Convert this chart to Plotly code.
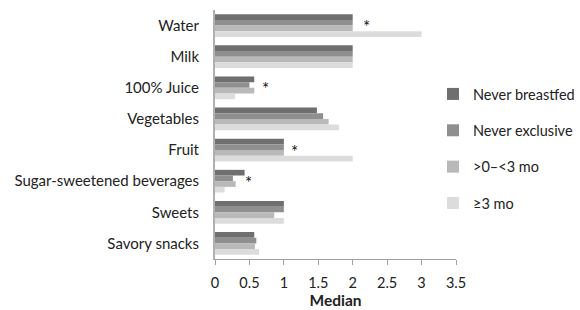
import plotly.graph_objects as go

categories = ["Water", "Milk", "100% Juice", "Vegetables", "Fruit",
              "Sugar-sweetened beverages", "Sweets", "Savory snacks"]
series_names = ["Never breastfed", "Never exclusive", ">0\u2013<3 mo", "\u22653 mo"]
never_breastfed = [2, 2, 0.57, 1.48, 1, 0.43, 1, 0.57]
never_exclusive = [2, 2, 0.50, 1.57, 1, 0.26, 1, 0.60]
lt3mo = [2, 2, 0.57, 1.65, 1, 0.30, 0.86, 0.58]
ge3mo = [3, 2, 0.29, 1.80, 2, 0.14, 1, 0.64]
series_values = [never_breastfed, never_exclusive, lt3mo, ge3mo]
colors = ["#6f6f6f", "#8f8f8f", "#b9b9b9", "#dcdcdc"]
star_categories = ["Water", "100% Juice", "Fruit", "Sugar-sweetened beverages"]
star_x = [2.2, 0.73, 1.15, 0.49]
x_ticks = [0, 0.5, 1, 1.5, 2, 2.5, 3, 3.5]

FONT = "Lato"

fig = go.Figure()
for i, (name, vals) in enumerate(zip(series_names, series_values)):
    fig.add_trace(go.Bar(
        y=categories, x=vals, name=name, orientation="h",
        marker=dict(color=colors[i], line=dict(width=0)),
        legendgroup=f"g{i}",
    ))

for c, xv in zip(star_categories, star_x):
    fig.add_annotation(x=xv, y=c, text="*", showarrow=False,
                       font=dict(family=FONT, size=17, color="#111111"),
                       yshift=-1)

fig.update_layout(
    width=580, height=310,
    margin=dict(l=215, r=124, t=10, b=51, autoexpand=False),
    paper_bgcolor="white", plot_bgcolor="white",
    barmode="group", bargap=0.27, bargroupgap=0,
    font=dict(family=FONT, size=14, color="#222"),
    showlegend=True,
    legend=dict(x=433 / 580, xanchor="left", y=1 - 78 / 310, yanchor="top",
                xref="container", yref="container",
                tracegroupgap=14.5, itemwidth=30,
                font=dict(family=FONT, size=14.5, color="#222"),
                bgcolor="rgba(0,0,0,0)"),
    xaxis=dict(range=[0, 3.5], tickvals=x_ticks,
               ticktext=[f"{t:g}" for t in x_ticks],
               showgrid=False, zeroline=False,
               showline=True, linecolor="#a0a0a0", linewidth=1,
               ticks="outside", tickcolor="#a0a0a0", ticklen=5,
               ticklabelstandoff=6,
               tickfont=dict(family=FONT, size=14.5, color="#222"),
               title=dict(text="<b>Median</b>", font=dict(family=FONT, size=15.5, color="#222"),
                          standoff=2),
               fixedrange=True),
    yaxis=dict(autorange="reversed", showgrid=False, zeroline=False,
               showline=True, linecolor="#b0b0b0", linewidth=2,
               ticks="", ticklabelstandoff=11,
               tickfont=dict(family=FONT, size=15, color="#222"),
               fixedrange=True),
)

fig.write_html("out.html", config={"displayModeBar": False},
               post_script="document.body.style.margin='0';document.body.style.overflow='hidden';")
